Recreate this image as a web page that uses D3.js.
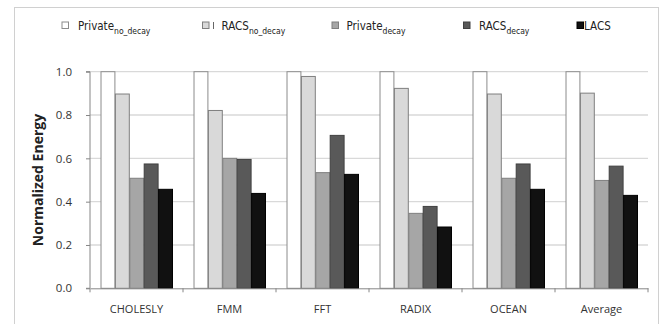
<!DOCTYPE html>
<html>
<head>
<meta charset="utf-8">
<script src="https://cdn.jsdelivr.net/npm/d3@7"></script>
<style>
  body { margin: 0; background: #fff; }
  svg { display: block; font-family: 'Open Sans', sans-serif; }
</style>
</head>
<body>
<svg id="chart"></svg>
<script>
const width = 669;
const height = 324;

const categories = ['CHOLESLY', 'FMM', 'FFT', 'RADIX', 'OCEAN', 'Average'];
const seriesNames = ['Private_no_decay', 'RACS_no_decay', 'Private_decay', 'RACS_decay', 'LACS'];
const privateNoDecay = [1.0, 1.0, 1.0, 1.0, 1.0, 1.0];
const racsNoDecay = [0.897, 0.821, 0.978, 0.923, 0.897, 0.901];
const privateDecay = [0.508, 0.600, 0.534, 0.346, 0.508, 0.498];
const racsDecay = [0.574, 0.595, 0.706, 0.378, 0.574, 0.564];
const lacs = [0.457, 0.438, 0.526, 0.283, 0.457, 0.429];
const yTicks = [0, 0.2, 0.4, 0.6, 0.8, 1.0];

const seriesValues = [privateNoDecay, racsNoDecay, privateDecay, racsDecay, lacs];
const fills = ['#ffffff', '#d9d9d9', '#a6a6a6', '#595959', '#111111'];
const strokes = ['#8c8c8c', '#7f7f7f', '#7f7f7f', '#404040', '#000000'];

const margin = { left: 90, right: 21, top: 71.7, bottom: 35.7 };

const svg = d3.select('#chart')
  .attr('width', width)
  .attr('height', height);

// outer frame
svg.append('rect')
  .attr('x', 14.5)
  .attr('y', 7.5)
  .attr('width', 644)
  .attr('height', 330)
  .attr('fill', 'none')
  .attr('stroke', '#d0d0d0');

const x0 = d3.scaleBand()
  .domain(categories)
  .range([margin.left, width - margin.right])
  .paddingInner(0)
  .paddingOuter(0);

const x1 = d3.scaleBand()
  .domain(seriesNames)
  .range([0, x0.bandwidth()])
  .paddingOuter(0.73)
  .paddingInner(0);

const y = d3.scaleLinear()
  .domain([0, 1])
  .range([height - margin.bottom, margin.top]);

// gridlines
svg.append('g')
  .selectAll('line')
  .data(yTicks.filter(d => d > 0))
  .enter()
  .append('line')
  .attr('x1', margin.left)
  .attr('x2', width - margin.right)
  .attr('y1', d => y(d))
  .attr('y2', d => y(d))
  .attr('stroke', '#d9d9d9')
  .attr('stroke-width', 1.3);

// bars
const rows = categories.map((c, i) => seriesNames.map((s, j) => ({ cat: c, key: s, idx: j, value: seriesValues[j][i] })));

svg.append('g')
  .selectAll('g')
  .data(rows)
  .enter()
  .append('g')
  .attr('transform', d => `translate(${x0(d[0].cat)},0)`)
  .selectAll('rect')
  .data(d => d)
  .enter()
  .append('rect')
  .attr('x', d => x1(d.key) + 0.5)
  .attr('y', d => y(d.value))
  .attr('width', x1.bandwidth() - 0.5)
  .attr('height', d => y(0) - y(d.value))
  .attr('fill', d => fills[d.idx])
  .attr('stroke', d => strokes[d.idx])
  .attr('stroke-width', 1);

// y axis
const yAxis = d3.axisLeft(y)
  .tickValues(yTicks)
  .tickFormat(d3.format('.1f'))
  .tickSize(4)
  .tickPadding(14);

const yg = svg.append('g')
  .attr('transform', `translate(${margin.left},0)`)
  .call(yAxis);
yg.select('.domain').attr('stroke', '#868686').attr('d', `M-4,${y(1)}H0V${y(0)}H-4`);
yg.selectAll('.tick line').attr('stroke', '#868686');
yg.selectAll('.tick text')
  .attr('fill', '#333')
  .style('font-size', '11.5px')
  .style('font-family', "'Open Sans', sans-serif");

// x axis
const xAxis = d3.axisBottom(x0)
  .tickSize(0)
  .tickPadding(17);

const xg = svg.append('g')
  .attr('transform', `translate(0,${y(0)})`)
  .call(xAxis);
xg.select('.domain').attr('stroke', '#868686');
xg.selectAll('.tick text')
  .attr('fill', '#333')
  .style('font-size', '11px')
  .style('font-family', "'Open Sans', sans-serif");

// boundary ticks between groups
const edges = categories.map(c => x0(c)).concat([x0.range()[1]]);
xg.append('g')
  .selectAll('line')
  .data(edges)
  .enter()
  .append('line')
  .attr('x1', d => d)
  .attr('x2', d => d)
  .attr('y1', 0)
  .attr('y2', 4)
  .attr('stroke', '#868686');

// y title
svg.append('text')
  .attr('transform', `translate(43,${(y(0) + y(1)) / 2}) rotate(-90)`)
  .attr('text-anchor', 'middle')
  .style('font-size', '14px')
  .style('font-weight', 'bold')
  .attr('fill', '#222')
  .text('Normalized Energy');

// legend
const legendItems = [
  { main: 'Private', sub: 'no_decay', x: 62, tx: 78 },
  { main: 'RACS', sub: 'no_decay', x: 202.5, tx: 221.5, bar: true },
  { main: 'Private', sub: 'decay', x: 332, tx: 346.5 },
  { main: 'RACS', sub: 'decay', x: 463.5, tx: 479 },
  { main: 'LACS', sub: '', x: 577, tx: 584 }
];

const legend = svg.append('g')
  .selectAll('g')
  .data(legendItems)
  .enter()
  .append('g');

legend.append('rect')
  .attr('x', d => d.x)
  .attr('y', 22)
  .attr('width', 6.5)
  .attr('height', 6.5)
  .attr('fill', (d, i) => fills[i])
  .attr('stroke', (d, i) => strokes[i]);

legend.filter(d => d.bar)
  .append('line')
  .attr('x1', 213.5)
  .attr('x2', 213.5)
  .attr('y1', 22)
  .attr('y2', 29)
  .attr('stroke', '#666');

const lt = legend.append('text')
  .attr('x', d => d.tx)
  .attr('y', 30)
  .attr('fill', '#222')
  .style('font-family', "'DejaVu Sans Condensed', 'DejaVu Sans', sans-serif")
  .style('font-size', '11.5px');

lt.append('tspan').text(d => d.main);
lt.append('tspan')
  .attr('dy', 4)
  .style('font-size', '8.5px')
  .text(d => d.sub);
</script>
</body>
</html>
